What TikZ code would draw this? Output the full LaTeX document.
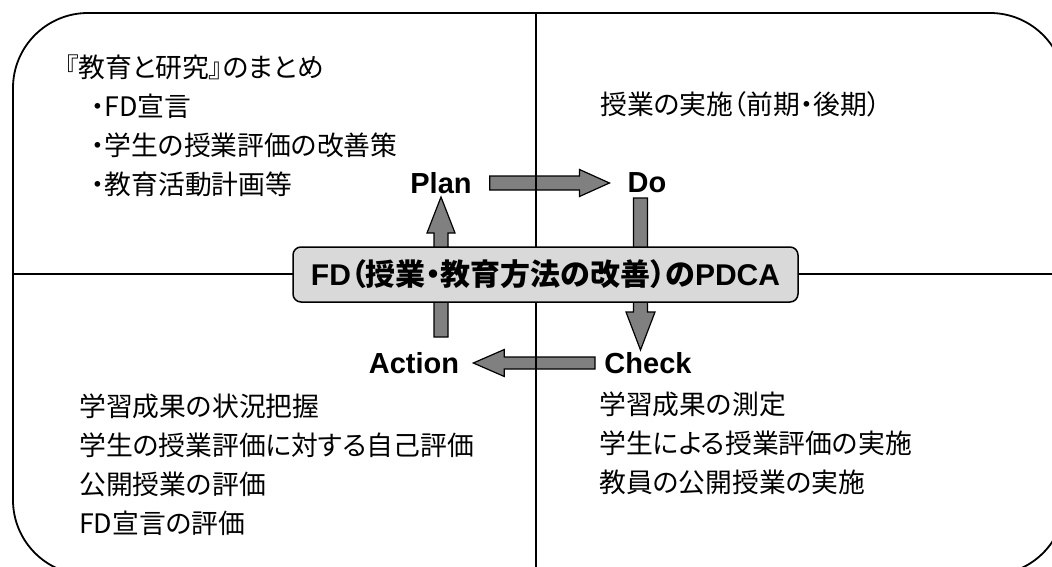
\documentclass[tikz,border=0pt]{standalone}
\usepackage{fontspec}
\setmainfont{Noto Sans CJK JP}[RawFeature={+palt}]
\newfontfamily\latinb{Liberation Sans}[BoldFont={Liberation Sans Bold}]
\usetikzlibrary{calc}
\definecolor{arrowgray}{HTML}{808080}
\definecolor{boxgray}{HTML}{D9D9D9}
\begin{document}
\begin{tikzpicture}[x=1pt,y=-1pt,
  body/.style={anchor=base west, inner sep=0pt, align=left, font=\fontsize{26.8}{39}\selectfont},
  lab/.style={font=\latinb\bfseries\fontsize{29}{29}\selectfont, inner sep=0pt},
  barrow/.style={draw=black, line width=1.2pt, fill=arrowgray, line join=miter},
  cross/.style={line width=1.3pt},
  frame/.style={line width=1.8pt, rounded corners=75pt},
  titlebox/.style={draw=black, line width=1.5pt, fill=boxgray, rounded corners=8pt,
    minimum width=505pt, minimum height=55pt, inner sep=0pt,
    font=\fontsize{30}{30}\selectfont\bfseries},
]
\useasboundingbox (0,0) rectangle (1052,567);
\clip (0,0) rectangle (1052,567);

% labels
\node[lab] (plan) at (441,183) {Plan};
\node[lab] (do) at (647,183) {Do};
\node[lab] (action) at (414,363) {Action};
\node[lab] (check) at (648,363) {Check};

% arrow end points
\coordinate (pds) at ($(plan.east)+(18,0)$);
\coordinate (pdt) at ($(do.west)+(-18,0)$);
\coordinate (dcs) at (640.5,198);
\coordinate (dct) at (640.5,350);
\coordinate (cas) at (595,363);
\coordinate (cat) at ($(action.east)+(14,0)$);
\coordinate (aps) at (441,337);
\coordinate (apt) at (441,197);

% block arrows
\draw[barrow] ($(pds)+(0,-7)$) -- ($(pdt)+(-30,-7)$) -- ($(pdt)+(-30,-13.5)$) -- (pdt)
  -- ($(pdt)+(-30,13.5)$) -- ($(pdt)+(-30,7)$) -- ($(pds)+(0,7)$) -- cycle;
\draw[barrow] ($(dcs)+(-7,0)$) -- ($(dct)+(-7,-38)$) -- ($(dct)+(-14.5,-38)$) -- (dct)
  -- ($(dct)+(14.5,-38)$) -- ($(dct)+(7,-38)$) -- ($(dcs)+(7,0)$) -- cycle;
\draw[barrow] ($(cas)+(0,-6)$) -- ($(cat)+(31,-6)$) -- ($(cat)+(31,-13.5)$) -- (cat)
  -- ($(cat)+(31,13.5)$) -- ($(cat)+(31,6)$) -- ($(cas)+(0,6)$) -- cycle;
\draw[barrow] ($(aps)+(-7,0)$) -- ($(apt)+(-7,36)$) -- ($(apt)+(-14,36)$) -- (apt)
  -- ($(apt)+(14,36)$) -- ($(apt)+(7,36)$) -- ($(aps)+(7,0)$) -- cycle;

% cross lines and frame
\draw[cross] (536,13) -- (536,575);
\draw[cross] (13,274) -- (1065,274);
\draw[frame] (13,13) rectangle (1065,575);

% central box
\node[titlebox] (pdca) at (545.5,274.5) {{\latinb FD}（授業・教育方法の改善）の{\latinb PDCA}};

% texts (base anchor = baseline of the last line)
\node[body] (tl) at (65,194) {『教育と研究』のまとめ\\\hspace*{26pt}・FD宣言\\\hspace*{26pt}・学生の授業評価の改善策\\\hspace*{26pt}・教育活動計画等};
\node[body] (tr) at (600,115) {授業の実施（前期・後期）};
\node[body] (bl) at (79,533) {学習成果の状況把握\\学生の授業評価に対する自己評価\\公開授業の評価\\FD宣言の評価};
\node[body] (br) at (599,492) {学習成果の測定\\学生による授業評価の実施\\教員の公開授業の実施};
\end{tikzpicture}
\end{document}
